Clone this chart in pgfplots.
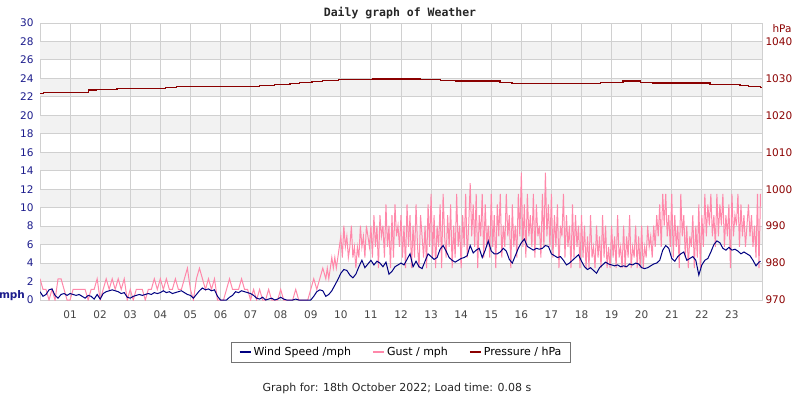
\documentclass[border=0pt]{standalone}
\usepackage{fontspec}
\setmainfont{DejaVu Sans}
\newfontfamily\monofont{DejaVu Sans Mono}
\usepackage{pgfplots}
\pgfplotsset{compat=1.18}
\definecolor{windc}{HTML}{000080}
\definecolor{gustc}{HTML}{FF88AA}
\definecolor{presc}{HTML}{8B0000}
\definecolor{bandc}{HTML}{F2F2F2}
\definecolor{gridc}{HTML}{D0D0D0}
\definecolor{lablc}{HTML}{1C1C8C}
\definecolor{xlabc}{HTML}{444444}
\begin{document}
\begin{tikzpicture}
\path[use as bounding box] (0,0) rectangle (800pt,400pt);
\begin{axis}[
  at={(40pt,100pt)}, anchor=south west,
  scale only axis, width=722pt, height=277pt,
  xmin=0, xmax=24, ymin=0, ymax=30,
  axis line style={draw=gridc, line width=1pt},
  xtick={1,...,23},
  xticklabels={01,02,03,04,05,06,07,08,09,10,11,12,13,14,15,16,17,18,19,20,21,22,23},
  ytick={0,2,...,30},
  major tick length=0pt,
  tick label style={font=\fontsize{10.5}{12}\selectfont},
  yticklabel style={text=lablc, xshift=-3pt},
  xticklabel style={text=xlabc, yshift=-7pt},
  /pgf/number format/assume math mode=true,
  clip=true,
  legend columns=3,
  legend style={at={(0.5,-0.1877)}, anchor=center, draw=black!55,
    font=\fontsize{11}{13}\selectfont, inner xsep=7pt, inner ysep=3pt,
    /tikz/every even column/.append style={column sep=19pt}},
  legend image code/.code={\draw[line width=2pt] (0pt,0pt) -- (11pt,0pt);},
]
\fill[bandc] (axis cs:0,2) rectangle (axis cs:24,4);
\fill[bandc] (axis cs:0,6) rectangle (axis cs:24,8);
\fill[bandc] (axis cs:0,10) rectangle (axis cs:24,12);
\fill[bandc] (axis cs:0,14) rectangle (axis cs:24,16);
\fill[bandc] (axis cs:0,18) rectangle (axis cs:24,20);
\fill[bandc] (axis cs:0,22) rectangle (axis cs:24,24);
\fill[bandc] (axis cs:0,26) rectangle (axis cs:24,28);
\pgfplotsinvokeforeach{2,4,...,28}{\draw[gridc, line width=0.9pt] (axis cs:0,#1) -- (axis cs:24,#1);}
\pgfplotsinvokeforeach{1,...,23}{\draw[gridc, line width=0.9pt] (axis cs:#1,0) -- (axis cs:#1,30);}
\addlegendimage{windc}
\addlegendentry{Wind Speed /mph}
\addlegendimage{gustc}
\addlegendentry{Gust / mph}
\addlegendimage{presc}
\addlegendentry{Pressure / hPa}
% Gust
\addplot[gustc, line width=1pt, sharp plot, forget plot] coordinates {
(0.0,2.3)(0.1,1.15)(0.2,1.15)(0.3,0)(0.4,1.15)(0.5,0)(0.6,2.3)(0.7,2.3)(0.8,1.15)(0.9,0)
(1.0,0)(1.1,1.15)(1.2,1.15)(1.3,1.15)(1.4,1.15)(1.5,1.15)(1.6,0)(1.7,1.15)(1.8,1.15)(1.9,2.3)
(2.0,0)(2.1,1.15)(2.2,2.3)(2.3,1.15)(2.4,2.3)(2.5,1.15)(2.6,2.3)(2.7,1.15)(2.8,2.3)(2.9,0)
(3.0,1.15)(3.1,0)(3.2,1.15)(3.3,1.15)(3.4,1.15)(3.5,0)(3.6,1.15)(3.7,1.15)(3.8,2.3)(3.9,1.15)
(4.0,2.3)(4.1,1.15)(4.2,2.3)(4.3,1.15)(4.4,1.15)(4.5,2.3)(4.6,1.15)(4.7,1.15)(4.8,2.3)(4.9,3.45)
(5.0,1.15)(5.1,0)(5.2,2.3)(5.3,3.45)(5.4,2.3)(5.5,1.15)(5.6,2.3)(5.7,1.15)(5.8,2.3)(5.9,0)
(6.0,0)(6.1,0)(6.2,1.15)(6.3,2.3)(6.4,1.15)(6.5,1.15)(6.6,1.15)(6.7,2.3)(6.8,1.15)(6.9,1.15)
(7.0,0)(7.1,1.15)(7.2,0)(7.3,1.15)(7.4,0)(7.5,0)(7.6,1.15)(7.7,0)(7.8,0)(7.9,0)
(8.0,1.15)(8.1,0)(8.2,0)(8.3,0)(8.4,0)(8.5,1.15)(8.6,0)(8.7,0)(8.8,0)(8.9,0)
(9.0,1.15)(9.1,2.3)(9.2,1.15)(9.3,2.3)(9.4,3.45)
(9.50,2.3)(9.55,3.45)(9.60,2.3)(9.65,3.45)(9.70,4.6)(9.75,3.45)(9.80,4.6)(9.85,3.45)(9.90,4.6)(9.95,5.75)
(10.00,6.9)(10.05,4.6)(10.10,8.05)(10.15,5.75)(10.20,6.9)(10.25,4.6)(10.30,5.75)(10.35,8.05)(10.40,4.6)(10.45,5.75)(10.50,3.45)(10.55,5.75)(10.60,4.6)(10.65,8.05)(10.70,5.75)(10.75,6.9)(10.80,4.6)(10.85,8.05)(10.90,6.9)(10.95,5.75)
(11.00,8.05)(11.05,4.6)(11.10,9.2)(11.15,5.75)(11.20,8.05)(11.25,3.45)(11.30,9.2)(11.35,6.9)(11.40,8.05)(11.45,4.6)(11.50,10.35)(11.55,5.75)(11.60,8.05)(11.65,3.45)(11.70,9.2)(11.75,4.6)(11.80,10.35)(11.85,6.9)(11.90,8.05)(11.95,5.75)
(12.00,9.2)(12.05,4.6)(12.10,8.05)(12.15,3.45)(12.20,10.35)(12.25,5.75)(12.30,9.2)(12.35,3.45)(12.40,8.05)(12.45,4.6)(12.50,10.35)(12.55,5.75)(12.60,3.45)(12.65,9.2)(12.70,6.9)(12.75,4.6)(12.80,8.05)(12.85,3.45)(12.90,10.35)(12.95,5.75)
(13.00,11.5)(13.05,4.6)(13.10,9.2)(13.15,3.45)(13.20,8.05)(13.25,5.75)(13.30,10.35)(13.35,3.45)(13.40,11.5)(13.45,6.9)(13.50,4.6)(13.55,9.2)(13.60,5.75)(13.65,10.35)(13.70,3.45)(13.75,8.05)(13.80,4.6)(13.85,11.5)(13.90,5.75)(13.95,8.05)
(14.00,3.45)(14.05,9.2)(14.10,5.75)(14.15,11.5)(14.20,4.6)(14.25,8.05)(14.30,12.65)(14.35,6.9)(14.40,10.35)(14.45,5.75)(14.50,11.5)(14.55,3.45)(14.60,9.2)(14.65,6.9)(14.70,11.5)(14.75,4.6)(14.80,10.35)(14.85,5.75)(14.90,8.05)(14.95,4.6)
(15.00,11.5)(15.05,5.75)(15.10,9.2)(15.15,3.45)(15.20,10.35)(15.25,6.9)(15.30,11.5)(15.35,4.6)(15.40,8.05)(15.45,5.75)(15.50,11.5)(15.55,6.9)(15.60,9.2)(15.65,3.45)(15.70,10.35)(15.75,5.75)(15.80,8.05)(15.85,4.6)(15.90,11.5)(15.95,6.9)
(16.00,13.8)(16.05,5.75)(16.10,10.35)(16.15,4.6)(16.20,11.5)(16.25,6.9)(16.30,9.2)(16.35,5.75)(16.40,11.5)(16.45,4.6)(16.50,10.35)(16.55,6.9)(16.60,8.05)(16.65,4.6)(16.70,11.5)(16.75,5.75)(16.80,13.8)(16.85,6.9)(16.90,10.35)(16.95,5.75)
(17.00,11.5)(17.05,4.6)(17.10,9.2)(17.15,5.75)(17.20,10.35)(17.25,3.45)(17.30,8.05)(17.35,6.9)(17.40,11.5)(17.45,4.6)(17.50,9.2)(17.55,5.75)(17.60,8.05)(17.65,3.45)(17.70,10.35)(17.75,4.6)(17.80,9.2)(17.85,5.75)(17.90,8.05)(17.95,3.45)
(18.00,9.2)(18.05,4.6)(18.10,8.05)(18.15,3.45)(18.20,6.9)(18.25,3.45)(18.30,9.2)(18.35,4.6)(18.40,5.75)(18.45,3.45)(18.50,8.05)(18.55,4.6)(18.60,6.9)(18.65,3.45)(18.70,9.2)(18.75,4.6)(18.80,8.05)(18.85,3.45)(18.90,5.75)(18.95,3.45)
(19.00,8.05)(19.05,4.6)(19.10,6.9)(19.15,3.45)(19.20,9.2)(19.25,4.6)(19.30,5.75)(19.35,3.45)(19.40,8.05)(19.45,3.45)(19.50,6.9)(19.55,4.6)(19.60,9.2)(19.65,3.45)(19.70,5.75)(19.75,4.6)(19.80,8.05)(19.85,3.45)(19.90,6.9)(19.95,3.45)
(20.00,8.05)(20.05,3.45)(20.10,5.75)(20.15,4.6)(20.20,8.05)(20.25,5.75)(20.30,6.9)(20.35,4.6)(20.40,8.05)(20.45,5.75)(20.50,9.2)(20.55,6.9)(20.60,10.35)(20.65,5.75)(20.70,11.5)(20.75,8.05)(20.80,11.5)(20.85,6.9)(20.90,9.2)(20.95,5.75)
(21.00,11.5)(21.05,4.6)(21.10,9.2)(21.15,5.75)(21.20,8.05)(21.25,3.45)(21.30,11.5)(21.35,6.9)(21.40,9.2)(21.45,4.6)(21.50,8.05)(21.55,3.45)(21.60,6.9)(21.65,5.75)(21.70,9.2)(21.75,3.45)(21.80,8.05)(21.85,4.6)(21.90,10.35)(21.95,3.45)
(22.00,9.2)(22.05,5.75)(22.10,11.5)(22.15,6.9)(22.20,10.35)(22.25,8.05)(22.30,11.5)(22.35,6.9)(22.40,9.2)(22.45,5.75)(22.50,11.5)(22.55,6.9)(22.60,10.35)(22.65,8.05)(22.70,11.5)(22.75,5.75)(22.80,9.2)(22.85,6.9)(22.90,10.35)(22.95,3.45)
(23.00,11.5)(23.05,6.9)(23.10,9.2)(23.15,8.05)(23.20,11.5)(23.25,5.75)(23.30,10.35)(23.35,6.9)(23.40,9.2)(23.45,5.75)(23.50,8.05)(23.55,10.35)(23.60,6.9)(23.65,9.2)(23.70,5.75)(23.75,8.05)(23.80,4.6)(23.85,11.5)(23.90,3.45)(23.95,11.5)
};
% Wind speed
\addplot[windc, line width=1pt, sharp plot, forget plot] coordinates {
(0.0,0.9)(0.1,0.4)(0.2,0.6)(0.3,1.1)(0.4,1.2)(0.5,0.5)(0.6,0.2)(0.7,0.6)(0.8,0.7)(0.9,0.5)
(1.0,0.7)(1.1,0.6)(1.2,0.5)(1.3,0.6)(1.4,0.4)(1.5,0.2)(1.6,0.5)(1.7,0.4)(1.8,0.1)(1.9,0.6)
(2.0,0.1)(2.1,0.7)(2.2,0.9)(2.3,1.0)(2.4,1.1)(2.5,1.0)(2.6,0.9)(2.7,0.7)(2.8,0.8)(2.9,0.3)
(3.0,0.2)(3.1,0.4)(3.2,0.5)(3.3,0.6)(3.4,0.5)(3.5,0.6)(3.6,0.7)(3.7,0.6)(3.8,0.8)(3.9,0.7)
(4.0,0.8)(4.1,1.0)(4.2,0.8)(4.3,0.9)(4.4,0.7)(4.5,0.8)(4.6,0.9)(4.7,1.0)(4.8,0.8)(4.9,0.6)
(5.0,0.5)(5.1,0.2)(5.2,0.6)(5.3,1.0)(5.4,1.3)(5.5,1.1)(5.6,1.2)(5.7,1.0)(5.8,1.1)(5.9,0.4)
(6.0,0.0)(6.1,0.0)(6.2,0.0)(6.3,0.3)(6.4,0.5)(6.5,0.9)(6.6,0.8)(6.7,1.0)(6.8,0.9)(6.9,0.8)
(7.0,0.7)(7.1,0.5)(7.2,0.2)(7.3,0.1)(7.4,0.3)(7.5,0.0)(7.6,0.1)(7.7,0.2)(7.8,0.0)(7.9,0.1)
(8.0,0.3)(8.1,0.1)(8.2,0.0)(8.3,0.0)(8.4,0.0)(8.5,0.1)(8.6,0.0)(8.7,0.0)(8.8,0.0)(8.9,0.0)
(9.0,0.0)(9.1,0.4)(9.2,0.9)(9.3,1.1)(9.4,1.0)(9.5,0.4)(9.6,0.6)(9.7,1.0)(9.8,1.6)(9.9,2.2)
(10.0,2.9)(10.1,3.3)(10.2,3.2)(10.3,2.7)(10.4,2.4)(10.5,2.8)(10.6,3.6)(10.7,4.3)(10.8,3.5)(10.9,3.9)
(11.0,4.3)(11.1,3.8)(11.2,4.2)(11.3,4.0)(11.4,3.6)(11.5,4.1)(11.6,2.8)(11.7,3.1)(11.8,3.6)(11.9,3.8)
(12.0,4.0)(12.1,3.8)(12.2,4.4)(12.3,5.0)(12.4,3.6)(12.5,4.2)(12.6,3.6)(12.7,3.4)(12.8,4.2)(12.9,5.0)
(13.0,4.7)(13.1,4.4)(13.2,4.6)(13.3,5.5)(13.4,5.9)(13.5,5.3)(13.6,4.6)(13.7,4.3)(13.8,4.1)(13.9,4.3)
(14.0,4.5)(14.1,4.6)(14.2,4.8)(14.3,5.9)(14.4,5.1)(14.5,5.4)(14.6,5.6)(14.7,4.6)(14.8,5.4)(14.9,6.4)
(15.0,5.3)(15.1,5.0)(15.2,5.0)(15.3,5.2)(15.4,5.6)(15.5,5.3)(15.6,4.4)(15.7,4.0)(15.8,4.8)(15.9,5.6)
(16.0,6.2)(16.1,6.6)(16.2,5.8)(16.3,5.6)(16.4,5.4)(16.5,5.6)(16.6,5.5)(16.7,5.6)(16.8,5.9)(16.9,5.8)
(17.0,5.0)(17.1,4.8)(17.2,4.6)(17.3,4.7)(17.4,4.3)(17.5,3.8)(17.6,4.0)(17.7,4.3)(17.8,4.6)(17.9,4.9)
(18.0,4.2)(18.1,3.6)(18.2,3.3)(18.3,3.5)(18.4,3.2)(18.5,2.9)(18.6,3.5)(18.7,3.8)(18.8,4.1)(18.9,3.9)
(19.0,3.8)(19.1,3.7)(19.2,3.8)(19.3,3.6)(19.4,3.7)(19.5,3.6)(19.6,3.9)(19.7,3.8)(19.8,4.0)(19.9,3.9)
(20.0,3.5)(20.1,3.4)(20.2,3.5)(20.3,3.7)(20.4,3.9)(20.5,4.0)(20.6,4.3)(20.7,5.4)(20.8,5.9)(20.9,5.6)
(21.0,4.5)(21.1,4.2)(21.2,4.7)(21.3,5.0)(21.4,5.2)(21.5,4.3)(21.6,4.5)(21.7,4.7)(21.8,4.3)(21.9,2.7)
(22.0,3.8)(22.1,4.3)(22.2,4.5)(22.3,5.2)(22.4,6.0)(22.5,6.4)(22.6,6.2)(22.7,5.6)(22.8,5.4)(22.9,5.7)
(23.0,5.4)(23.1,5.5)(23.2,5.3)(23.3,5.0)(23.4,5.2)(23.5,5.0)(23.6,4.8)(23.7,4.3)(23.8,3.7)(23.9,4.1)(23.95,4.2)
};
\end{axis}
\begin{axis}[
  at={(40pt,100pt)}, anchor=south west,
  scale only axis, width=722pt, height=277pt,
  xmin=0, xmax=24, ymin=970, ymax=1045,
  hide x axis,
  axis y line*=right,
  y axis line style={draw=none},
  ytick={970,980,...,1040},
  major tick length=0pt,
  tick label style={font=\fontsize{10.5}{12}\selectfont},
  yticklabel style={text=presc, xshift=0pt},
  /pgf/number format/assume math mode=true,
  /pgf/number format/1000 sep={},
]
\addplot[presc, line width=1.1pt, const plot] coordinates {
(0,1025.9)(0.13,1026.2)(1.6,1026.85)(1.86,1027.05)(2.56,1027.3)(4.16,1027.6)(4.55,1027.7)
(5.32,1027.75)(7.31,1028.0)(7.8,1028.3)(8.31,1028.7)(8.64,1028.95)(9.04,1029.2)(9.38,1029.5)
(9.91,1029.65)(11.04,1029.85)(12.63,1029.65)(13.3,1029.5)(13.8,1029.3)(15.29,1028.95)
(15.69,1028.7)(18.62,1029.0)(19.38,1029.3)(19.95,1029.0)(20.35,1028.75)(22.27,1028.4)
(23.27,1028.1)(23.54,1027.85)(23.94,1027.6)(24,1027.6)
};
\end{axis}
\node[font=\monofont\bfseries\fontsize{11.5}{13}\selectfont, text=black!85] at (400pt,387pt) {Daily graph of Weather};
\node[font=\bfseries\fontsize{10.5}{12}\selectfont, text=lablc] at (12pt,104pt) {mph};
\node[font=\fontsize{10.5}{12}\selectfont, text=presc] at (782pt,371pt) {hPa};
\node[font=\fontsize{11}{13}\selectfont, text=black!85] at (397pt,12pt) {Graph for: 18th October 2022; Load time: 0.08 s};
\end{tikzpicture}
\end{document}
